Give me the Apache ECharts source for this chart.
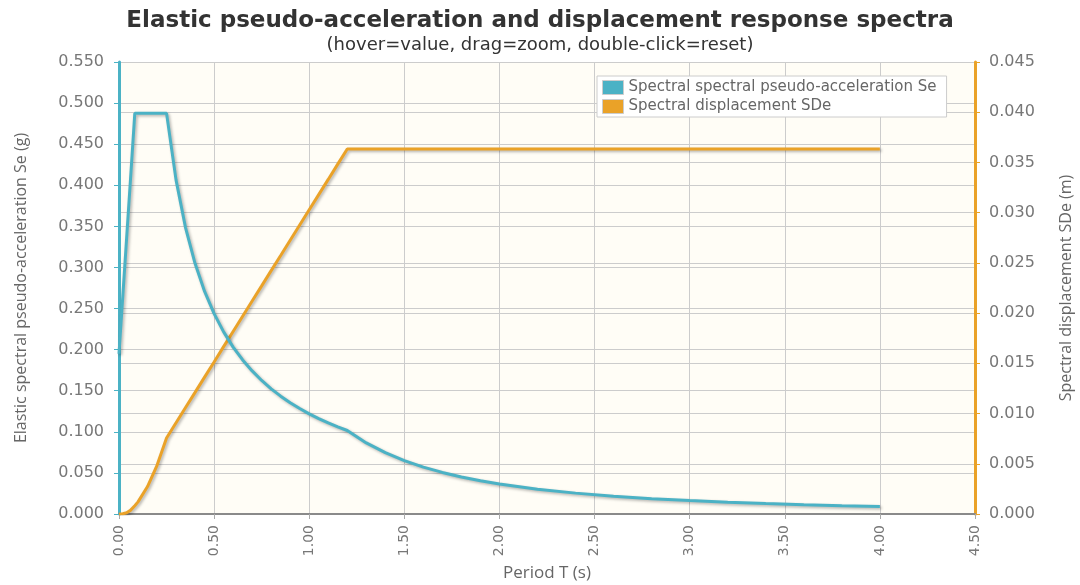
<!DOCTYPE html>
<html>
<head>
<meta charset="utf-8">
<script src="https://cdn.jsdelivr.net/npm/echarts@6/dist/echarts.min.js"></script>
<style>
  html, body { margin: 0; padding: 0; background: #ffffff; }
  #chart { width: 1080px; height: 585px; }
</style>
</head>
<body>
<div id="chart"></div>
<script>
// Period T (s)
const periods = [0, 0.02, 0.04, 0.06, 0.083, 0.1, 0.15, 0.2, 0.25, 0.3, 0.35, 0.4, 0.45, 0.5,
  0.55, 0.6, 0.65, 0.7, 0.75, 0.8, 0.85, 0.9, 0.95, 1.0, 1.05, 1.1, 1.15, 1.2, 1.3, 1.4, 1.5,
  1.6, 1.7, 1.8, 1.9, 2.0, 2.2, 2.4, 2.6, 2.8, 3.0, 3.2, 3.4, 3.6, 3.8, 4.0];

// Elastic spectral pseudo-acceleration Se (g)
const seValues = [0.195, 0.2652, 0.3354, 0.4056, 0.4875, 0.4875, 0.4875, 0.4875, 0.4875, 0.4063,
  0.3482, 0.3047, 0.2708, 0.2438, 0.2216, 0.2031, 0.1875, 0.1741, 0.1625, 0.1523, 0.1434, 0.1354,
  0.1283, 0.1219, 0.1161, 0.1108, 0.1060, 0.1016, 0.0865, 0.0746, 0.0650, 0.0571, 0.0506, 0.0451,
  0.0405, 0.0366, 0.0302, 0.0254, 0.0216, 0.0187, 0.0163, 0.0143, 0.0127, 0.0113, 0.0101, 0.0091];

// Spectral displacement SDe (m)
const sdeValues = [0, 0.00003, 0.00013, 0.00036, 0.00083, 0.00121, 0.00273, 0.00485, 0.00757,
  0.00909, 0.01060, 0.01211, 0.01363, 0.01514, 0.01666, 0.01817, 0.01969, 0.02120, 0.02271,
  0.02423, 0.02574, 0.02726, 0.02877, 0.03029, 0.03180, 0.03331, 0.03483, 0.03634, 0.03634,
  0.03634, 0.03634, 0.03634, 0.03634, 0.03634, 0.03634, 0.03634, 0.03634, 0.03634, 0.03634,
  0.03634, 0.03634, 0.03634, 0.03634, 0.03634, 0.03634, 0.03634];

const seriesNames = ['Spectral spectral pseudo-acceleration Se', 'Spectral displacement SDe'];

const seColor = '#4bb2c5';
const sdeColor = '#eaa228';
const tickFont = 'DejaVu Sans';
const nameFont = 'Open Sans';

const chart = echarts.init(document.getElementById('chart'), null, { renderer: 'canvas' });

const lineShadow = {
  shadowColor: 'rgba(0,0,0,0.3)',
  shadowBlur: 3,
  shadowOffsetX: 1.5,
  shadowOffsetY: 1.5
};

chart.setOption({
  animation: false,
  backgroundColor: '#ffffff',
  title: {
    text: 'Elastic pseudo-acceleration and displacement response spectra',
    subtext: '(hover=value, drag=zoom, double-click=reset)',
    left: 'center',
    top: 5,
    itemGap: 3,
    textStyle: { fontFamily: 'DejaVu Sans', fontWeight: 'bold', fontSize: 23, color: '#333333' },
    subtextStyle: { fontFamily: 'DejaVu Sans', fontSize: 18, color: '#333333' }
  },
  legend: {
    orient: 'vertical',
    left: 597,
    top: 76,
    itemGap: 4,
    itemWidth: 21,
    itemHeight: 14,
    icon: 'rect',
    padding: [4, 10, 3, 5],
    backgroundColor: '#ffffff',
    borderColor: '#cccccc',
    borderWidth: 1,
    textStyle: { fontFamily: tickFont, fontSize: 15, color: '#666666' },
    data: seriesNames.map((n, i) => ({
      name: n,
      itemStyle: { color: i === 0 ? seColor : sdeColor, borderColor: '#cccccc', borderWidth: 1 }
    }))
  },
  grid: {
    left: 119,
    right: 105,
    top: 62,
    bottom: 71,
    outerBoundsMode: 'none',
    show: true,
    backgroundColor: '#fffdf6',
    borderWidth: 0
  },
  xAxis: {
    type: 'value',
    min: 0,
    max: 4.5,
    interval: 0.5,
    name: 'Period T (s)',
    nameLocation: 'middle',
    nameGap: 51,
    nameTextStyle: { fontFamily: nameFont, fontSize: 17, color: '#666666' },
    axisLine: { show: true, lineStyle: { color: '#8a8a8a', width: 2 } },
    axisTick: { show: true, length: 5, lineStyle: { color: '#aaaaaa' } },
    axisLabel: {
      rotate: 90,
      margin: 11,
      fontFamily: tickFont,
      fontSize: 14,
      color: '#777777',
      formatter: v => v.toFixed(2)
    },
    splitLine: { show: true, lineStyle: { color: '#cccccc', width: 1 } }
  },
  yAxis: [
    {
      type: 'value',
      position: 'left',
      min: 0,
      max: 0.55,
      interval: 0.05,
      name: 'Elastic spectral pseudo-acceleration Se (g)',
      nameLocation: 'middle',
      nameRotate: 90,
      nameGap: 90,
      nameTextStyle: { fontFamily: nameFont, fontSize: 16, color: '#666666' },
      axisLine: { show: true, lineStyle: { color: seColor, width: 3 } },
      axisTick: { show: true, length: 5, lineStyle: { color: seColor } },
      axisLabel: { margin: 15, fontFamily: tickFont, fontSize: 16, color: '#777777', formatter: v => v.toFixed(3) },
      splitLine: { show: true, lineStyle: { color: '#cccccc', width: 1 } }
    },
    {
      type: 'value',
      position: 'right',
      min: 0,
      max: 0.045,
      interval: 0.005,
      name: 'Spectral displacement SDe (m)',
      nameLocation: 'middle',
      nameRotate: 90,
      nameGap: 83,
      nameTextStyle: { fontFamily: nameFont, fontSize: 16, color: '#666666' },
      axisLine: { show: true, lineStyle: { color: sdeColor, width: 3 } },
      axisTick: { show: true, length: 5, lineStyle: { color: sdeColor } },
      axisLabel: { margin: 14, fontFamily: tickFont, fontSize: 16, color: '#777777', formatter: v => v.toFixed(3) },
      splitLine: { show: true, lineStyle: { color: '#cccccc', width: 1 } }
    }
  ],
  series: [
    {
      name: seriesNames[0],
      type: 'line',
      yAxisIndex: 0,
      showSymbol: false,
      data: periods.map((t, i) => [t, seValues[i]]),
      lineStyle: Object.assign({ color: seColor, width: 3 }, lineShadow),
      itemStyle: { color: seColor },
      z: 3
    },
    {
      name: seriesNames[1],
      type: 'line',
      yAxisIndex: 1,
      showSymbol: false,
      data: periods.map((t, i) => [t, sdeValues[i]]),
      lineStyle: Object.assign({ color: sdeColor, width: 3 }, lineShadow),
      itemStyle: { color: sdeColor },
      z: 2
    }
  ]
});
</script>
</body>
</html>
